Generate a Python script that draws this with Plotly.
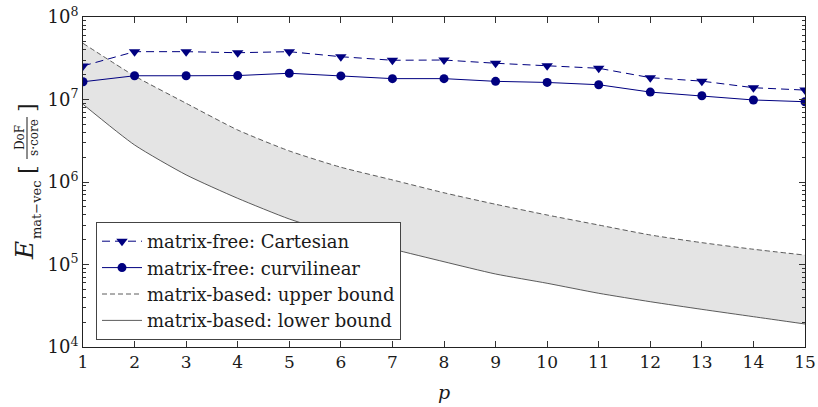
import plotly.graph_objects as go

p = list(range(1, 16))
cartesian = [2.55e7, 3.8e7, 3.8e7, 3.69e7, 3.8e7, 3.3e7, 2.99e7, 3.01e7,
             2.75e7, 2.57e7, 2.39e7, 1.84e7, 1.67e7, 1.39e7, 1.30e7]
curvilinear = [1.64e7, 1.94e7, 1.94e7, 1.95e7, 2.08e7, 1.93e7, 1.79e7, 1.79e7,
               1.66e7, 1.61e7, 1.51e7, 1.23e7, 1.11e7, 9.87e6, 9.4e6]
upper = [4.8e7, 1.93e7, 9.0e6, 4.27e6, 2.38e6, 1.51e6, 1.06e6, 7.4e5,
         5.37e5, 3.98e5, 3.01e5, 2.28e5, 1.84e5, 1.53e5, 1.30e5]
lower = [8.75e6, 2.81e6, 1.22e6, 6.34e5, 3.56e5, 2.28e5, 1.54e5, 1.08e5,
         7.67e4, 5.92e4, 4.48e4, 3.54e4, 2.86e4, 2.33e4, 1.90e4]
ytick_vals = [1e4, 1e5, 1e6, 1e7, 1e8]
ytick_text = ["10<sup>4</sup>", "10<sup>5</sup>", "10<sup>6</sup>", "10<sup>7</sup>", "10<sup>8</sup>"]
minor_vals = [m * 10 ** e for e in range(4, 8) for m in range(2, 10)]

FONT = "DejaVu Serif"
NAVY = "#000080"
TXT = "#1a1a1a"
SPL = dict(shape="spline", smoothing=0.6)

fig = go.Figure()
# shaded band between bounds
fig.add_trace(go.Scatter(x=p, y=lower, mode="lines", showlegend=False, hoverinfo="skip",
                         line=dict(width=0, **SPL)))
fig.add_trace(go.Scatter(x=p, y=upper, mode="lines", showlegend=False, hoverinfo="skip",
                         line=dict(width=0, **SPL), fill="tonexty", fillcolor="#e4e4e4"))
# bound lines
fig.add_trace(go.Scatter(x=p, y=upper, mode="lines", name="matrix-based: upper bound",
                         line=dict(color="#333333", width=0.8, dash="5px,3px", **SPL),
                         legendrank=3))
fig.add_trace(go.Scatter(x=p, y=lower, mode="lines", name="matrix-based: lower bound",
                         line=dict(color="#333333", width=0.8, **SPL),
                         legendrank=4))
fig.add_trace(go.Scatter(x=p, y=cartesian, mode="lines+markers", name="matrix-free: Cartesian",
                         line=dict(color=NAVY, width=1, dash="8px,5px"),
                         marker=dict(symbol="triangle-down", size=10, color=NAVY),
                         legendrank=1))
fig.add_trace(go.Scatter(x=p, y=curvilinear, mode="lines+markers", name="matrix-free: curvilinear",
                         line=dict(color=NAVY, width=1),
                         marker=dict(symbol="circle", size=9, color=NAVY),
                         legendrank=2))

W, H = 818, 407
PL, PR, PT, PB = 83, 805, 17, 347          # plot area in page pixels
L, R, T, B = PL, W - PR, PT, H - PB
pw = PR - PL
ph = PB - PT

fig.update_layout(
    width=W, height=H,
    margin=dict(l=L, r=R, t=T, b=B, autoexpand=False),
    paper_bgcolor="white", plot_bgcolor="white",
    font=dict(family=FONT, size=17, color=TXT),
    showlegend=True,
    legend=dict(x=(96 - PL) / pw, y=(PB - 222) / ph, xanchor="left", yanchor="top",
                bgcolor="white", bordercolor="#444444", borderwidth=1,
                font=dict(family=FONT, size=18, color=TXT),
                traceorder="normal", tracegroupgap=0, itemwidth=40),
    xaxis=dict(range=[1, 15], tickvals=p, ticks="inside", ticklen=6, tickcolor="#333",
               showline=True, linecolor="#222", linewidth=1, mirror="ticks",
               showgrid=False, zeroline=False, automargin=False, ticklabeloverflow="allow",
               tickfont=dict(family=FONT, size=17, color=TXT),
               title=dict(text="<i>p</i>", font=dict(family=FONT, size=19, color=TXT), standoff=14)),
    yaxis=dict(type="log", range=[4, 8], tickvals=ytick_vals, ticktext=ytick_text,
               ticks="inside", ticklen=6, tickcolor="#333",
               showline=True, linecolor="#222", linewidth=1, mirror="ticks",
               showgrid=False, zeroline=False, automargin=False, ticklabeloverflow="allow",
               tickfont=dict(family=FONT, size=18, color=TXT),
               minor=dict(tickvals=minor_vals, ticks="inside", ticklen=3, tickcolor="#333", showgrid=False)),
)

def px_x(xp):
    return (xp - PL) / pw

def px_y(yp):
    return (PB - yp) / ph

def vtext(x, y, text, size):
    fig.add_annotation(x=px_x(x), y=px_y(y), text=text, xref="paper", yref="paper",
                       showarrow=False, textangle=-90, xanchor="center", yanchor="middle",
                       font=dict(family=FONT, size=size, color=TXT))

vtext(24, 251, "<i>E</i>", 25)
vtext(36, 210, "mat−vec", 13)
vtext(27, 170, "[", 22)
vtext(27, 108, "]", 22)
vtext(20, 138, "DoF", 12)
vtext(34, 138, "s·core", 12)
fig.add_shape(type="line", xref="paper", yref="paper",
              x0=px_x(27), x1=px_x(27), y0=px_y(117), y1=px_y(159),
              line=dict(color=TXT, width=1))

fig.write_html("out.html", config={"displayModeBar": False},
               post_script="document.body.style.margin='0';document.body.style.overflow='hidden';")
